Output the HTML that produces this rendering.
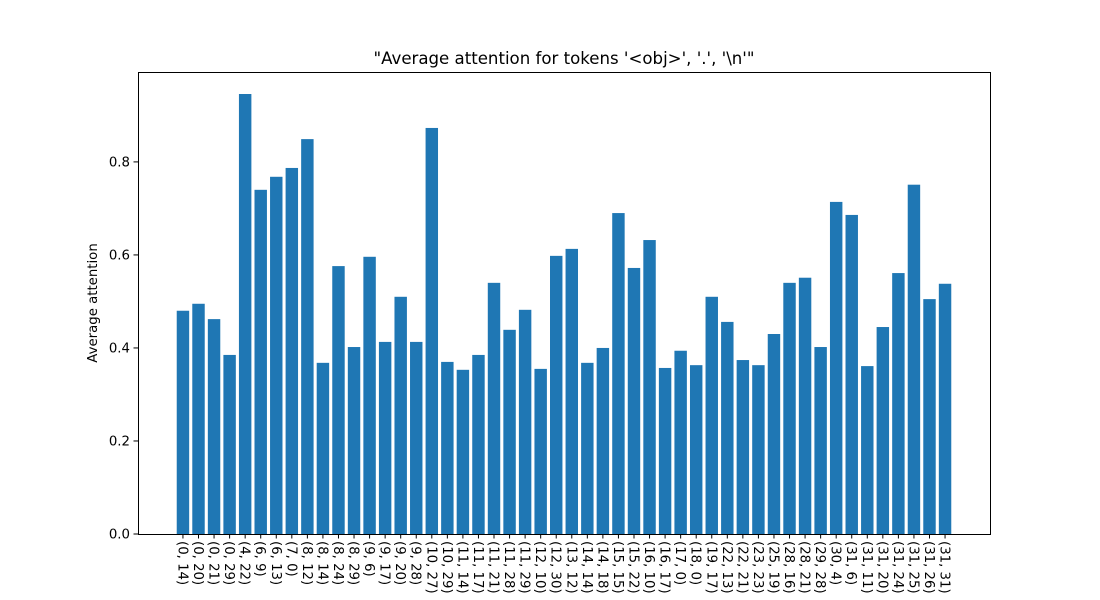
<!DOCTYPE html>
<html><head><meta charset="utf-8"><style>
body{margin:0;background:#fff}
svg{display:block;font-family:"DejaVu Sans","Liberation Sans",sans-serif}
</style></head><body>
<svg id="chart" width="1100" height="600">
<rect width="1100" height="600" fill="#fff"/>
<text x="564" y="64" font-size="16.6" text-anchor="middle">"Average attention for tokens '&lt;obj&gt;', '.', '\n'"</text>
<g id="bars"></g>
<g id="xticks"></g>
<g id="yticks"></g>
<rect x="138.5" y="72.5" width="852" height="462" fill="none" stroke="#000" stroke-width="1"/>
<text transform="translate(97,303) rotate(-90)" font-size="13.3" text-anchor="middle">Average attention</text>
</svg>
<script>
const categories=["(0, 14)","(0, 20)","(0, 21)","(0, 29)","(4, 22)","(6, 9)","(6, 13)","(7, 0)","(8, 12)","(8, 14)","(8, 24)","(8, 29)","(9, 6)","(9, 17)","(9, 20)","(9, 28)","(10, 27)","(10, 29)","(11, 14)","(11, 17)","(11, 21)","(11, 28)","(11, 29)","(12, 10)","(12, 30)","(13, 12)","(14, 14)","(14, 18)","(15, 15)","(15, 22)","(16, 10)","(16, 17)","(17, 0)","(18, 0)","(19, 17)","(22, 13)","(22, 21)","(23, 23)","(25, 19)","(28, 16)","(28, 21)","(29, 28)","(30, 4)","(31, 6)","(31, 11)","(31, 20)","(31, 24)","(31, 25)","(31, 26)","(31, 31)"];
const values=[0.480,0.495,0.462,0.385,0.946,0.740,0.768,0.787,0.849,0.368,0.576,0.402,0.596,0.413,0.510,0.413,0.873,0.370,0.353,0.385,0.540,0.439,0.482,0.355,0.598,0.613,0.368,0.400,0.690,0.572,0.632,0.357,0.394,0.363,0.510,0.456,0.374,0.363,0.430,0.540,0.551,0.402,0.714,0.686,0.361,0.445,0.561,0.751,0.505,0.538];
const yTicks=[0,0.2,0.4,0.6,0.8];
const yTickLabels=["0.0","0.2","0.4","0.6","0.8"];
const NS="http://www.w3.org/2000/svg";
const L=138,R=990,T=72,B=534;
const n=categories.length;
const xmin=-0.4-0.05*(n-0.2),xmax=n-0.6+0.05*(n-0.2);
const ymax=Math.max(...values)*1.05;
const xs=v=>L+(v-xmin)/(xmax-xmin)*(R-L);
const ys=v=>B-v/ymax*(B-T);
const bars=document.getElementById('bars'),xt=document.getElementById('xticks'),yt=document.getElementById('yticks');
values.forEach((v,i)=>{
 const r=document.createElementNS(NS,'rect');
 
 
 r.setAttribute('x',xs(i-0.4));r.setAttribute('width',xs(0.8)-xs(0));
 r.setAttribute('y',ys(v));r.setAttribute('height',B-ys(v));r.setAttribute('fill','#1f77b4');
 bars.appendChild(r);
});
categories.forEach((c,i)=>{
 const x=xs(i);
 const l=document.createElementNS(NS,'line');
 
 
 l.setAttribute('x1',x);l.setAttribute('x2',x);l.setAttribute('y1',B);l.setAttribute('y2',B+4.5);l.setAttribute('stroke','#000');
 xt.appendChild(l);
 const t=document.createElementNS(NS,'text');
 
 
 t.setAttribute('transform',`translate(${x-4.5},${B+7}) rotate(90)`);
 t.setAttribute('font-size','13.3');
 t.textContent=c;xt.appendChild(t);
});
yTicks.forEach((v,i)=>{
 const y=ys(v);
 const l=document.createElementNS(NS,'line');
 
 
 l.setAttribute('x1',L-4.5);l.setAttribute('x2',L);l.setAttribute('y1',y);l.setAttribute('y2',y);l.setAttribute('stroke','#000');
 yt.appendChild(l);
 const t=document.createElementNS(NS,'text');
 
 
 t.setAttribute('x',L-8);t.setAttribute('y',y+4.5);t.setAttribute('font-size','13.3');t.setAttribute('text-anchor','end');
 t.textContent=yTickLabels[i];yt.appendChild(t);
});
</script>
</body></html>
